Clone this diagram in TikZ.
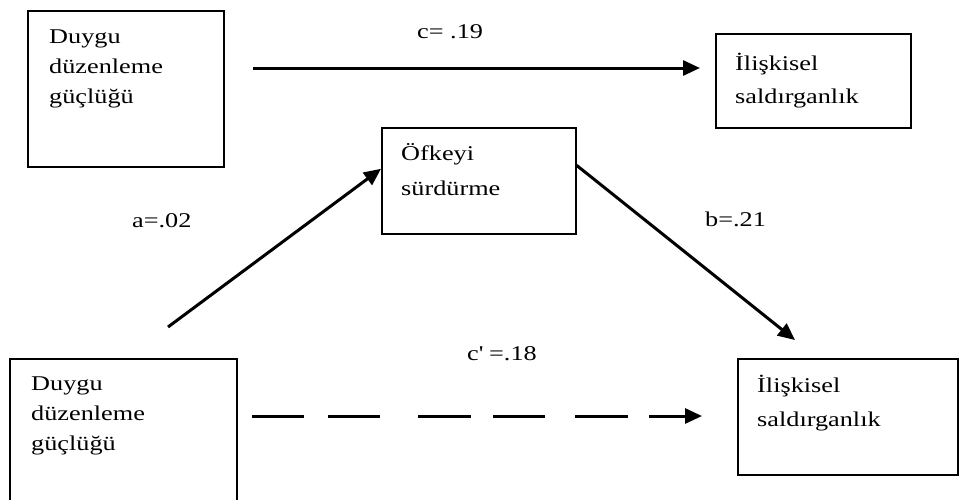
\documentclass[tikz,border=0pt]{standalone}
\usepackage{fontspec}
\setmainfont{Liberation Serif}[FakeStretch=1.25]
\usetikzlibrary{arrows.meta}
\begin{document}
\begin{tikzpicture}[x=1pt,y=-1pt,
  box/.style={draw, line width=1.6pt, inner sep=0pt, anchor=north west},
  txt/.style={anchor=base west, inner sep=0pt, align=left},
  conn/.style={line width=3pt, -{Triangle[length=17pt,width=15pt]}},
]
\clip (0,0) rectangle (960,499);
% boxes
\node[box, minimum width=196pt, minimum height=156pt] (A1) at (27,10) {};
\node[box, minimum width=227pt, minimum height=170pt] (A2) at (9,358) {};
\node[box, minimum width=194pt, minimum height=106pt] (M) at (381,127) {};
\node[box, minimum width=195pt, minimum height=94pt] (Y1) at (715,33) {};
\node[box, minimum width=220pt, minimum height=116pt] (Y2) at (737,358) {};
% box texts (anchor = baseline of the last line)
\node[txt, font=\fontsize{21}{30}\selectfont] (A1t) at (49,103) {Duygu\\düzenleme\\güçlüğü};
\node[txt, font=\fontsize{21}{30}\selectfont] (A2t) at (31,450) {Duygu\\düzenleme\\güçlüğü};
\node[txt, font=\fontsize{21}{35}\selectfont] (Mt) at (401,195) {Öfkeyi\\sürdürme};
\node[txt, font=\fontsize{21}{33}\selectfont] (Y1t) at (735,103) {İlişkisel\\saldırganlık};
\node[txt, font=\fontsize{21}{34}\selectfont] (Y2t) at (757,426) {İlişkisel\\saldırganlık};
% path labels
\node[txt, font=\fontsize{21}{25}\selectfont] (lc) at (417,38) {c= .19};
\node[txt, font=\fontsize{21}{25}\selectfont] (la) at (132,227) {a=.02};
\node[txt, font=\fontsize{21}{25}\selectfont] (lb) at (705,226) {b=.21};
\node[txt, font=\fontsize{21}{25}\selectfont] (lcp) at (467,360) {c\textquotesingle{} =.18};
% free ends
\coordinate (cS) at (253,68);
\coordinate (cE) at (700,68);
\coordinate (aS) at (168,327);
\coordinate (bE) at (795,340);
\coordinate (dS) at (252,416);
\coordinate (dE) at (702,416);
% connectors
\draw[conn] (cS) -- (cE);
\draw[conn] (aS) -- (M.173);
\draw[conn] (M.9) -- (bE);
\draw[conn, dash pattern=on 52pt off 24pt on 52pt off 38pt on 53pt off 22pt on 52pt off 30pt on 53pt off 21pt on 100pt off 0pt] (dS) -- (dE);
\end{tikzpicture}
\end{document}
